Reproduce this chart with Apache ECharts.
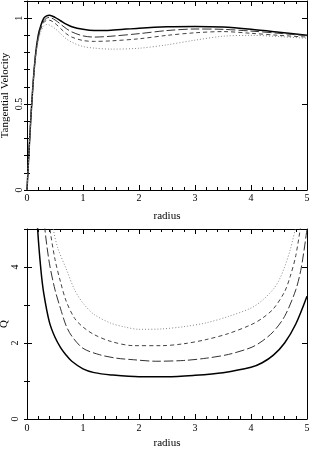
<!DOCTYPE html>
<html><head><meta charset="utf-8">
<script src="https://cdn.jsdelivr.net/npm/echarts@6/dist/echarts.min.js"></script>
<style>html,body{margin:0;padding:0;background:#fff}#c{width:310px;height:449px}</style>
</head><body><div id="c"></div>
<script>
// ---- Top panel: tangential velocity vs radius ----
const velR = [0, 0.05, 0.1, 0.15, 0.2, 0.25, 0.3, 0.35, 0.4, 0.5, 0.6, 0.7, 0.8, 1.0, 1.2, 1.5, 2.0, 2.5, 3.0, 3.5, 4.0, 4.5, 5.0];
const velSolid    = [0, 0.31, 0.58, 0.78, 0.90, 0.96, 1.00, 1.013, 1.017, 1.005, 0.985, 0.965, 0.95, 0.935, 0.928, 0.93, 0.942, 0.95, 0.952, 0.948, 0.935, 0.918, 0.90];
const velLongDash = [0, 0.31, 0.58, 0.78, 0.89, 0.95, 0.985, 1.0, 1.004, 0.99, 0.965, 0.94, 0.92, 0.897, 0.89, 0.895, 0.91, 0.928, 0.937, 0.935, 0.925, 0.912, 0.898];
const velDash     = [0, 0.31, 0.58, 0.77, 0.88, 0.94, 0.975, 0.987, 0.988, 0.97, 0.94, 0.91, 0.89, 0.87, 0.865, 0.868, 0.88, 0.90, 0.915, 0.922, 0.912, 0.90, 0.89];
const velDotted   = [0, 0.31, 0.58, 0.76, 0.87, 0.925, 0.955, 0.963, 0.96, 0.94, 0.91, 0.88, 0.86, 0.835, 0.826, 0.82, 0.825, 0.845, 0.872, 0.895, 0.90, 0.893, 0.883];

// ---- Bottom panel: Q vs radius ----
const qSolidR = [0.15, 0.19, 0.25, 0.3, 0.4, 0.5, 0.6, 0.7, 0.8, 1.0, 1.2, 1.5, 2.0, 2.5, 3.0, 3.5, 4.0, 4.2, 4.4, 4.6, 4.8, 5.0];
const qSolid  = [6.3, 5.0, 3.9, 3.3, 2.55, 2.15, 1.88, 1.68, 1.52, 1.32, 1.22, 1.16, 1.11, 1.11, 1.15, 1.22, 1.36, 1.48, 1.68, 2.0, 2.5, 3.23];
const qLongDashR = [0.25, 0.32, 0.4, 0.5, 0.6, 0.7, 0.8, 1.0, 1.3, 1.6, 1.9, 2.3, 2.8, 3.2, 3.6, 4.0, 4.2, 4.4, 4.6, 4.8, 4.9, 5.0];
const qLongDash  = [6.4, 5.0, 4.1, 3.4, 2.9, 2.45, 2.18, 1.86, 1.69, 1.6, 1.56, 1.52, 1.54, 1.6, 1.7, 1.88, 2.05, 2.3, 2.7, 3.4, 4.0, 5.0];
const qDashR = [0.35, 0.41, 0.5, 0.6, 0.7, 0.85, 1.0, 1.2, 1.5, 1.9, 2.4, 2.8, 3.2, 3.6, 4.0, 4.2, 4.4, 4.6, 4.7, 4.8, 4.9];
const qDash  = [5.9, 5.0, 4.2, 3.6, 3.1, 2.65, 2.42, 2.22, 2.04, 1.93, 1.93, 1.98, 2.09, 2.25, 2.48, 2.65, 2.9, 3.35, 3.75, 4.3, 5.2];
const qDottedR = [0.42, 0.47, 0.55, 0.7, 0.85, 1.0, 1.2, 1.5, 1.75, 2.0, 2.4, 2.8, 3.2, 3.6, 4.0, 4.2, 4.4, 4.5, 4.6, 4.7, 4.8];
const qDotted  = [5.7, 5.0, 4.5, 3.95, 3.4, 3.05, 2.75, 2.52, 2.42, 2.36, 2.37, 2.43, 2.53, 2.7, 2.92, 3.12, 3.42, 3.65, 4.0, 4.45, 5.05];

const xTicks = { min: 0, max: 5, major: 1, minor: 0.2 };
const velTicks = { min: 0, max: 1.1, major: 0.5, minor: 0.1 };
const qTicks = { min: 0, max: 5, major: 2, minor: 1 };

const FONT = 'Liberation Serif';
const pair = (xs, ys) => xs.map((x, i) => [x, ys[i]]);
const isMult = (v, step) => Math.abs(v / step - Math.round(v / step)) < 1e-6;

function xAxes(grid, nameGap, labelMargin) {
  const base = {
    type: 'value', gridIndex: grid, min: xTicks.min, max: xTicks.max, interval: xTicks.major,
    splitLine: { show: false },
    axisLine: { show: true, onZero: false, lineStyle: { color: '#000', width: 1 } },
    axisTick: { show: true, inside: true, length: 5, lineStyle: { color: '#000' } },
    minorTick: { show: true, splitNumber: 5, length: 3, lineStyle: { color: '#000' } },
  };
  return [
    Object.assign({}, base, {
      position: 'bottom', name: 'radius', nameLocation: 'middle', nameGap: nameGap, nameMoveOverlap: false,
      nameTextStyle: { fontFamily: FONT, fontSize: 11, color: '#000' },
      axisLabel: { show: true, margin: labelMargin, fontFamily: FONT, fontSize: 10, color: '#000' }
    }),
    Object.assign({}, base, { position: 'top', axisLabel: { show: false } })
  ];
}

function yAxes(grid, t, name, nameGap, labelMargin) {
  const common = {
    type: 'value', gridIndex: grid, min: t.min, max: t.max, splitLine: { show: false }
  };
  const major = Object.assign({}, common, {
    interval: t.major,
    axisLine: { show: true, onZero: false, lineStyle: { color: '#000', width: 1 } },
    axisTick: { show: true, inside: true, length: 5, lineStyle: { color: '#000' } },
  });
  const minor = Object.assign({}, common, {
    interval: t.minor,
    axisLine: { show: false },
    axisTick: { show: true, inside: true, length: 3, lineStyle: { color: '#000' } },
    axisLabel: { show: false }
  });
  return [
    Object.assign({}, major, {
      position: 'left', name: name, nameLocation: 'middle', nameGap: nameGap, nameRotate: 90, nameMoveOverlap: false,
      nameTextStyle: { fontFamily: FONT, fontSize: 11, color: '#000' },
      axisLabel: { show: true, rotate: 90, margin: labelMargin, fontFamily: FONT, fontSize: 10, color: '#000',
        formatter: v => isMult(v, t.major) ? String(+v.toFixed(3)) : '' }
    }),
    Object.assign({}, major, { position: 'right', axisLabel: { show: false } }),
    Object.assign({}, minor, { position: 'left' }),
    Object.assign({}, minor, { position: 'right' })
  ];
}

const styles = [
  { color: '#000', width: 1.5, type: 'solid' },
  { color: '#333', width: 1, type: [9, 3] },
  { color: '#444', width: 1, type: [4, 3] },
  { color: '#888', width: 1, type: [1, 2] }
];

function mk(data, xi, yi, s) {
  return {
    type: 'line', xAxisIndex: xi, yAxisIndex: yi, data: data, showSymbol: false, symbol: 'none',
    smooth: 0.3, clip: true, animation: false,
    lineStyle: { color: s.color, width: s.width, type: s.type }
  };
}

const chart = echarts.init(document.getElementById('c'), null, { renderer: 'canvas' });
chart.setOption({
  animation: false,
  backgroundColor: '#fff',
  grid: [
    { left: 27, right: 3, top: 1, height: 189, outerBoundsMode: 'none', containLabel: false },
    { left: 27, right: 3, top: 229, height: 190, outerBoundsMode: 'none', containLabel: false }
  ],
  xAxis: [].concat(xAxes(0, 21, 3), xAxes(1, 19, 4)),
  yAxis: [].concat(yAxes(0, velTicks, 'Tangential Velocity', 16, 3), yAxes(1, qTicks, 'Q', 17, 7)),
  series: [
    mk(pair(velR, velSolid), 0, 0, styles[0]),
    mk(pair(velR, velLongDash), 0, 0, styles[1]),
    mk(pair(velR, velDash), 0, 0, styles[2]),
    mk(pair(velR, velDotted), 0, 0, styles[3]),
    mk(pair(qSolidR, qSolid), 2, 4, styles[0]),
    mk(pair(qLongDashR, qLongDash), 2, 4, styles[1]),
    mk(pair(qDashR, qDash), 2, 4, styles[2]),
    mk(pair(qDottedR, qDotted), 2, 4, styles[3])
  ]
});
</script></body></html>
